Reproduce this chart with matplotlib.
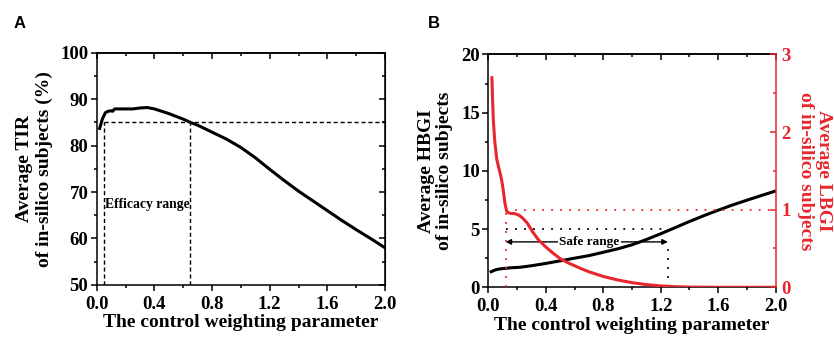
import numpy as np
import matplotlib
matplotlib.use("Agg")
import matplotlib.pyplot as plt
from matplotlib.ticker import MultipleLocator

# Panel A: average TIR vs control weighting parameter
x_a = [0.02, 0.04, 0.06, 0.08, 0.10, 0.11, 0.125, 0.15, 0.20, 0.25, 0.30, 0.35,
       0.40, 0.50, 0.60, 0.65, 0.70, 0.80, 0.90, 1.00, 1.10, 1.20, 1.30, 1.40,
       1.50, 1.60, 1.70, 1.80, 1.90, 2.00]
tir = [83.7, 85.8, 87.1, 87.4, 87.5, 87.4, 87.9, 87.9, 87.9, 87.9, 88.1, 88.2,
       87.9, 86.9, 85.7, 85.0, 84.4, 82.9, 81.4, 79.6, 77.4, 74.9, 72.5, 70.2,
       68.1, 66.0, 63.9, 61.9, 60.0, 58.0]
efficacy_lo, efficacy_hi, tir_level = 0.05, 0.65, 85

# Panel B: HBGI (left axis) and LBGI (right axis)
x_h = [0.02, 0.05, 0.08, 0.12, 0.16, 0.22, 0.30, 0.40, 0.50, 0.60, 0.70, 0.78,
       0.90, 1.00, 1.10, 1.20, 1.30, 1.40, 1.50, 1.60, 1.70, 1.80, 1.90, 2.00]
hbgi = [1.34, 1.50, 1.58, 1.63, 1.68, 1.72, 1.85, 2.05, 2.27, 2.50, 2.72, 2.95,
        3.30, 3.65, 4.10, 4.60, 5.12, 5.65, 6.15, 6.62, 7.07, 7.48, 7.88, 8.27]
x_l = [0.025, 0.03, 0.035, 0.045, 0.058, 0.07, 0.081, 0.093, 0.104, 0.116,
       0.128, 0.14, 0.16, 0.18, 0.20, 0.22, 0.24, 0.27, 0.31, 0.35, 0.40, 0.45,
       0.50, 0.55, 0.64, 0.70, 0.80, 0.90, 1.00, 1.10, 1.20, 1.30, 1.40, 1.60,
       1.80, 2.00]
lbgi = [2.70, 2.40, 2.15, 1.88, 1.66, 1.56, 1.48, 1.38, 1.25, 1.08,
        0.98, 0.96, 0.95, 0.95, 0.94, 0.92, 0.89, 0.83, 0.71, 0.61, 0.52, 0.44,
        0.37, 0.32, 0.245, 0.20, 0.14, 0.095, 0.06, 0.035, 0.018, 0.008, 0.003, 0.0,
        0.0, 0.0]
safe_lo, safe_hi, hbgi_level, lbgi_level, arrow_y = 0.12, 1.25, 5, 1, 3.9

red = "#e8262d"
serif = "Liberation Serif"
plt.rcParams["font.family"] = serif
plt.rcParams["font.weight"] = "bold"

TICK_FS = 13.5
LABEL_FS = 14

fig = plt.figure(figsize=(8.34, 3.38), dpi=100)
ax1 = fig.add_axes([0.116, 0.157, 0.3456, 0.687])
ax2 = fig.add_axes([0.5855, 0.150, 0.3445, 0.689])


def style_axis(ax):
    for s in ax.spines.values():
        s.set_linewidth(1.1)
    ax.tick_params(axis="both", which="major", length=4, width=1.1,
                   labelsize=TICK_FS, direction="out")
    ax.tick_params(axis="both", which="minor", length=2.5, width=1.1,
                   direction="out")
    ax.tick_params(axis="x", which="major", pad=4)
    ax.tick_params(axis="y", which="major", pad=2)
    ax.xaxis.set_major_locator(MultipleLocator(0.4))
    ax.xaxis.set_minor_locator(MultipleLocator(0.2))
    ax.set_xlim(0, 2.0)
    sec = ax.secondary_xaxis("top")
    sec.xaxis.set_major_locator(MultipleLocator(0.4))
    sec.xaxis.set_minor_locator(MultipleLocator(0.2))
    sec.tick_params(which="major", direction="in", length=4, width=1.1, labeltop=False)
    sec.tick_params(which="minor", direction="in", length=2.5, width=1.1)
    sec.spines["top"].set_linewidth(1.1)
    ax.set_xlabel("The control weighting parameter", fontsize=LABEL_FS,
                  fontweight="bold", labelpad=1)
    ax.xaxis.set_major_formatter(plt.FuncFormatter(lambda v, p: f"{v:.1f}"))


# ---- Panel A ----
style_axis(ax1)
ax1.plot(x_a, tir, color="black", lw=2.2)
ax1.set_ylim(50, 100)
ax1.yaxis.set_major_locator(MultipleLocator(10))
ax1.yaxis.set_minor_locator(MultipleLocator(5))
sec_r = ax1.secondary_yaxis("right")
sec_r.yaxis.set_major_locator(MultipleLocator(10))
sec_r.yaxis.set_minor_locator(MultipleLocator(5))
sec_r.tick_params(which="major", direction="in", length=4, width=1.1, labelright=False)
sec_r.tick_params(which="minor", direction="in", length=2.5, width=1.1)
ax1.hlines(tir_level, efficacy_lo, 2.0, colors="black", linestyles=(0, (3, 2)), lw=1)
ax1.vlines([efficacy_lo, efficacy_hi], 50, tir_level, colors="black",
           linestyles=(0, (3, 2)), lw=1)
ax1.text(efficacy_lo + 0.01, 67.4, "Efficacy range", fontsize=9.8,
         fontweight="bold", va="center", ha="left")
ax1.set_ylabel("Average TIR\nof in-silico subjects (%)", fontsize=LABEL_FS,
               fontweight="bold", labelpad=5, linespacing=1.25)
fig.text(0.024, 0.93, "A", fontsize=12, fontweight="bold",
         family="Liberation Sans", va="center", ha="center")

# ---- Panel B ----
style_axis(ax2)
ax2.plot(x_h, hbgi, color="black", lw=2.2, zorder=3)
ax2.set_ylim(0, 20)
ax2.yaxis.set_major_locator(MultipleLocator(5))
ax2.yaxis.set_minor_locator(MultipleLocator(2.5))
ax2.set_ylabel("Average HBGI\nof in-silico subjects", fontsize=LABEL_FS,
               fontweight="bold", labelpad=6, linespacing=1.1)
ax2.spines["right"].set_visible(False)

ax3 = ax2.twinx()
ax3.set_ylim(0, 3)
ax3.plot(x_l, lbgi, color=red, lw=2.2, zorder=3)
ax3.yaxis.set_major_locator(MultipleLocator(1))
ax3.yaxis.set_minor_locator(MultipleLocator(0.5))
ax3.tick_params(axis="y", which="major", direction="in", length=4, width=1.1,
                colors=red, labelsize=TICK_FS, pad=4)
ax3.tick_params(axis="y", which="minor", direction="in", length=2.5, width=1.1,
                colors=red)
for name in ["left", "top", "bottom"]:
    ax3.spines[name].set_visible(False)
ax3.spines["right"].set_color(red)
ax3.spines["right"].set_linewidth(1.1)
ax3.set_ylabel("Average LBGI\nof in-silico subjects", fontsize=LABEL_FS,
               fontweight="bold", color=red, rotation=270, labelpad=30,
               linespacing=1.1)

# reference lines
ax3.hlines(lbgi_level, safe_lo, 2.0, colors=red, linestyles=(0, (1, 4)), lw=1.3)
ax3.vlines(safe_lo, 0, lbgi_level, colors=red, linestyles=(0, (1, 4)), lw=1.3)
ax2.hlines(hbgi_level, safe_lo, safe_hi - 0.03, colors="black",
           linestyles=(0, (1, 4)), lw=1.3)
ax2.vlines(safe_hi, 0, arrow_y, colors="black", linestyles=(0, (1, 4)), lw=1.3)
ax2.annotate("", xy=(safe_lo, arrow_y), xytext=(safe_hi, arrow_y),
             arrowprops=dict(arrowstyle="<|-|>", color="black", lw=1.0,
                             shrinkA=0, shrinkB=0, mutation_scale=8), zorder=2)
ax2.text((safe_lo + safe_hi) / 2 + 0.02, arrow_y, "Safe range", fontsize=9.5,
         fontweight="bold", ha="center", va="center", zorder=2.5,
         bbox=dict(facecolor="white", edgecolor="none", pad=1))
fig.text(0.52, 0.93, "B", fontsize=12, fontweight="bold",
         family="Liberation Sans", va="center", ha="center")

fig.savefig("out.png", dpi=100)
